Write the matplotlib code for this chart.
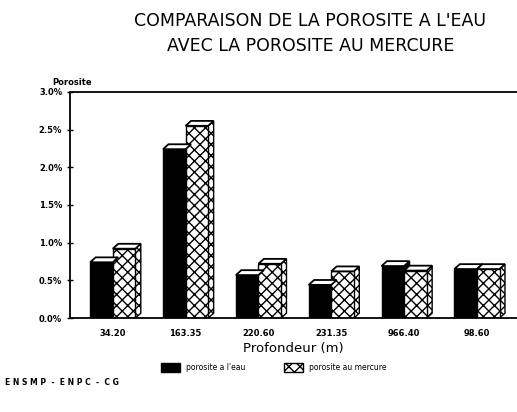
import matplotlib.pyplot as plt
from matplotlib.patches import Polygon
import numpy as np

# depths (m) and porosity values (%)
depths = ["34.20", "163.35", "220.60", "231.35", "966.40", "98.60"]
poro_eau = [0.74, 2.24, 0.57, 0.44, 0.69, 0.65]
poro_mercure = [0.92, 2.55, 0.72, 0.62, 0.63, 0.65]
yticks = [0.0, 0.5, 1.0, 1.5, 2.0, 2.5, 3.0]

W = 0.31      # bar width
DX = 0.075    # 3D depth (x units)
DY = 0.065    # 3D depth (y units)

fig = plt.figure(figsize=(5.17, 4.12), dpi=100)
ax = fig.add_axes([0.135, 0.228, 0.865, 0.549])

x = np.arange(len(depths))


def bar3d(ax, left, h, hatch):
    face = "white" if hatch else "black"
    ax.bar(left, h, width=W, align="edge", color=face, edgecolor="black",
           hatch=hatch, linewidth=1.0, zorder=2)
    # side face
    side = Polygon([(left + W, 0), (left + W + DX, DY), (left + W + DX, h + DY),
                    (left + W, h)], closed=True, facecolor=face,
                   edgecolor="black", hatch=hatch, linewidth=1.0, zorder=1)
    ax.add_patch(side)
    # top cap
    top = Polygon([(left, h), (left + DX, h + DY), (left + W + DX, h + DY),
                   (left + W, h)], closed=True, facecolor="white",
                  edgecolor="black", linewidth=1.3, zorder=3)
    ax.add_patch(top)


for i in range(len(depths)):
    bar3d(ax, x[i] - W, poro_eau[i], None)
    bar3d(ax, x[i], poro_mercure[i], "xxx")

ax.set_xlim(-0.59, 5.55)
ax.set_ylim(0, 3.0)
ax.set_xticks(x)
ax.set_xticklabels(depths, fontsize=6, fontweight="bold")
ax.set_yticks(yticks)
ax.set_yticklabels([f"{v:.1f}%" for v in yticks], fontsize=6, fontweight="bold")
ax.tick_params(axis="y", direction="inout", length=4, width=1)
ax.tick_params(axis="x", length=0, pad=8)
ax.spines["right"].set_visible(False)
for s in ["left", "bottom", "top"]:
    ax.spines[s].set_linewidth(1.3)

ax.set_xlabel("Profondeur (m)", fontsize=9.5, labelpad=3)
ax.text(-0.04, 1.02, "Porosite", transform=ax.transAxes, fontsize=6,
        fontweight="bold", ha="left", va="bottom")

fig.text(0.6, 0.97, "COMPARAISON DE LA POROSITE A L'EAU\nAVEC LA POROSITE AU MERCURE",
         ha="center", va="top", fontsize=12.5, linespacing=1.45)

# legend
h1 = plt.Rectangle((0, 0), 1, 1, facecolor="black", edgecolor="black")
h2 = plt.Rectangle((0, 0), 1, 1, facecolor="white", edgecolor="black", hatch="xxx")
fig.legend([h1, h2], ["porosite a l'eau", "porosite au mercure"],
           loc="center", bbox_to_anchor=(0.53, 0.108), ncol=2, frameon=False,
           fontsize=5.5, handlelength=2.5, handleheight=1.3, columnspacing=5)

fig.text(0.01, 0.072, "E N S M P  -  E N P C  -  C G", fontsize=5.5,
         fontweight="bold", ha="left", va="center")

fig.savefig("out.png", dpi=100)
